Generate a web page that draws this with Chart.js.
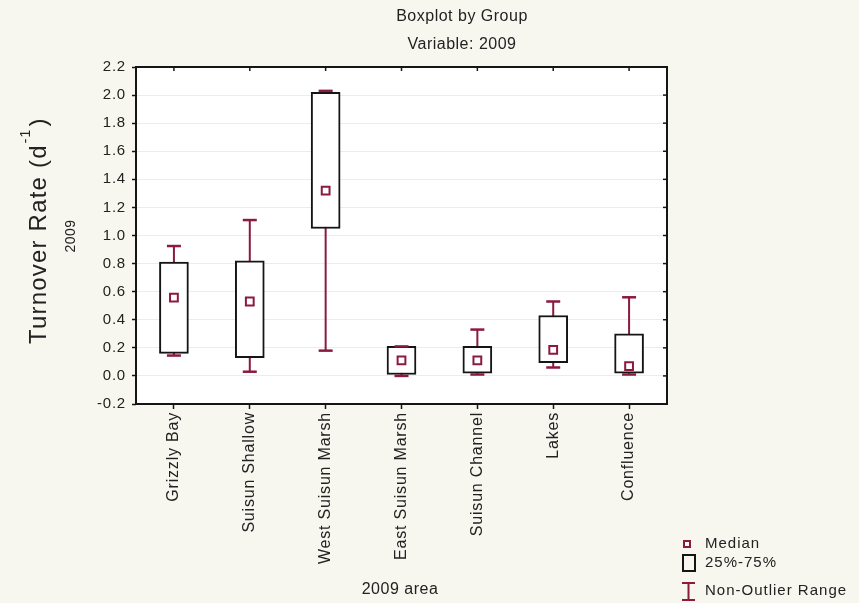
<!DOCTYPE html>
<html>
<head>
<meta charset="utf-8">
<script src="https://cdn.jsdelivr.net/npm/chart.js@4.4.1/dist/chart.umd.min.js"></script>
<style>
  html, body { margin: 0; padding: 0; background: #f7f6ef; }
  #wrap { width: 859px; height: 603px; }
</style>
</head>
<body>
<div id="wrap"><canvas id="grafico" width="859" height="603"></canvas></div>
<script>
// data
const areas = ["Grizzly Bay", "Suisun Shallow", "West Suisun Marsh", "East Suisun Marsh",
               "Suisun Channel", "Lakes", "Confluence"];
const whiskerLow  = [0.145, 0.03, 0.18, 0.00, 0.01, 0.06, 0.01];
const boxLow      = [0.16, 0.13, 1.05, 0.01, 0.02, 0.095, 0.02];
const medians     = [0.557, 0.53, 1.32, 0.11, 0.11, 0.185, 0.07];
const boxHigh     = [0.81, 0.82, 2.02, 0.21, 0.21, 0.43, 0.30];
const whiskerHigh = [0.925, 1.11, 2.03, 0.21, 0.33, 0.53, 0.56];
const yTicks = [-0.2, 0.0, 0.2, 0.4, 0.6, 0.8, 1.0, 1.2, 1.4, 1.6, 1.8, 2.0, 2.2];

const MAROON = "#8b1a3d";
const INK = "#151515";
const FONT = "'Liberation Sans', Arial, sans-serif";

// cream page, white plot area
const fondo = {
    id: "fondo",
    beforeDraw(chart) {
        const ctx = chart.ctx;
        const a = chart.chartArea;
        ctx.save();
        ctx.fillStyle = "#f7f6ef";
        ctx.fillRect(0, 0, chart.width, chart.height);
        ctx.fillStyle = "#ffffff";
        ctx.fillRect(a.left, a.top, a.right - a.left, a.bottom - a.top);
        ctx.restore();
        // wider lettering for the axis labels, like the original
        ctx.letterSpacing = "0.8px";
    }
};

// whisker stems behind the boxes, caps on top
const bigotes = {
    id: "bigotes",
    beforeDatasetsDraw(chart) {
        const ctx = chart.ctx;
        const x = chart.scales.x, y = chart.scales.y;
        ctx.letterSpacing = "0px";
        ctx.save();
        ctx.strokeStyle = MAROON;
        ctx.lineWidth = 2;
        areas.forEach((_, i) => {
            const px = x.getPixelForValue(i);
            ctx.beginPath();
            ctx.moveTo(px, y.getPixelForValue(whiskerLow[i]));
            ctx.lineTo(px, y.getPixelForValue(whiskerHigh[i]));
            ctx.stroke();
        });
        ctx.restore();
    },
    afterDatasetsDraw(chart) {
        const ctx = chart.ctx;
        const x = chart.scales.x, y = chart.scales.y;
        ctx.save();
        ctx.strokeStyle = MAROON;
        ctx.lineWidth = 2.5;
        areas.forEach((_, i) => {
            const px = x.getPixelForValue(i);
            [whiskerLow[i], whiskerHigh[i]].forEach(v => {
                const py = y.getPixelForValue(v);
                ctx.beginPath();
                ctx.moveTo(px - 7, py);
                ctx.lineTo(px + 7, py);
                ctx.stroke();
            });
        });
        ctx.restore();
    }
};

// frame, inner ticks on top/right, titles and legend
const textos = {
    id: "textos",
    afterDraw(chart) {
        const ctx = chart.ctx;
        const a = chart.chartArea;
        const x = chart.scales.x, y = chart.scales.y;
        ctx.save();

        ctx.strokeStyle = INK;
        ctx.lineWidth = 2;
        ctx.strokeRect(a.left, a.top, a.right - a.left, a.bottom - a.top);
        ctx.lineWidth = 1.5;
        yTicks.forEach(v => {
            const py = y.getPixelForValue(v);
            ctx.beginPath();
            ctx.moveTo(a.right - 4, py);
            ctx.lineTo(a.right, py);
            ctx.stroke();
        });
        areas.forEach((_, i) => {
            const px = x.getPixelForValue(i);
            ctx.beginPath();
            ctx.moveTo(px, a.top);
            ctx.lineTo(px, a.top + 4);
            ctx.stroke();
        });

        ctx.fillStyle = "#222";
        ctx.textAlign = "center";
        ctx.textBaseline = "middle";
        ctx.letterSpacing = "0.5px";
        ctx.font = "16px " + FONT;
        ctx.fillText("Boxplot by Group", 462, 17);
        ctx.fillText("Variable: 2009", 462, 45);
        ctx.fillText("2009 area", 400, 590);

        // y titles
        ctx.save();
        ctx.translate(71, 236);
        ctx.rotate(-Math.PI / 2);
        ctx.font = "14px " + FONT;
        ctx.fillText("2009", 0, 0);
        ctx.restore();

        ctx.save();
        ctx.translate(39, 344);
        ctx.rotate(-Math.PI / 2);
        ctx.textAlign = "left";
        ctx.letterSpacing = "1.2px";
        ctx.font = "24px " + FONT;
        const base = "Turnover Rate (d";
        ctx.fillText(base, 0, 0);
        let w = ctx.measureText(base).width;
        ctx.font = "14px " + FONT;
        ctx.fillText("-1", w + 1, -13);
        w += ctx.measureText("-1").width + 3;
        ctx.font = "24px " + FONT;
        ctx.fillText(")", w, 0);
        ctx.restore();

        // legend
        ctx.textAlign = "left";
        ctx.font = "15px " + FONT;
        ctx.letterSpacing = "1px";
        ctx.fillText("Median", 705, 544);
        ctx.fillText("25%-75%", 705, 563);
        ctx.fillText("Non-Outlier Range", 705, 591);

        ctx.strokeStyle = MAROON;
        ctx.lineWidth = 2;
        ctx.fillStyle = "#fff";
        ctx.fillRect(684, 541, 6, 6);
        ctx.strokeRect(684, 541, 6, 6);
        ctx.strokeStyle = INK;
        ctx.strokeRect(683, 555, 12, 16);
        ctx.strokeStyle = MAROON;
        ctx.beginPath();
        ctx.moveTo(682, 583); ctx.lineTo(695, 583);
        ctx.moveTo(688.5, 583); ctx.lineTo(688.5, 600);
        ctx.moveTo(682, 600); ctx.lineTo(695, 600);
        ctx.stroke();

        ctx.restore();
    }
};

const ctx = document.getElementById("grafico").getContext("2d");

new Chart(ctx, {
    type: "bar",
    data: {
        labels: areas,
        datasets: [
            {
                type: "line",
                label: "Median",
                data: medians,
                showLine: false,
                pointStyle: "rect",
                pointRadius: 5.5,
                pointBorderWidth: 2,
                borderColor: MAROON,
                backgroundColor: "#fff",
                order: 0
            },
            {
                label: "25%-75%",
                data: boxLow.map((v, i) => [v, boxHigh[i]]),
                backgroundColor: "#fff",
                borderColor: INK,
                borderWidth: 2,
                borderSkipped: false,
                barThickness: 29,
                order: 1
            }
        ]
    },
    options: {
        responsive: false,
        animation: false,
        devicePixelRatio: 1,
        layout: { padding: { left: 0, top: 67, right: 192, bottom: 0 } },
        plugins: {
            legend: { display: false },
            tooltip: { enabled: false }
        },
        scales: {
            x: {
                type: "category",
                offset: true,
                afterFit: s => { s.height = 199; },
                grid: {
                    offset: false,
                    drawOnChartArea: false,
                    tickLength: 5,
                    tickColor: INK,
                    tickWidth: 1.5
                },
                border: { display: false },
                ticks: {
                    autoSkip: false,
                    minRotation: 90,
                    maxRotation: 90,
                    padding: 3,
                    color: "#222",
                    font: { family: FONT, size: 16 }
                }
            },
            y: {
                min: -0.2,
                max: 2.2,
                afterFit: s => { s.width = 136; },
                afterBuildTicks: s => { s.ticks = yTicks.map(v => ({ value: v })); },
                grid: {
                    color: "rgba(205, 208, 220, 0.4)",
                    tickLength: 4,
                    tickColor: INK,
                    tickWidth: 1.5
                },
                border: { display: false },
                ticks: {
                    padding: 6,
                    color: "#222",
                    font: { family: FONT, size: 15 },
                    callback: v => v.toFixed(1)
                }
            }
        }
    },
    plugins: [fondo, bigotes, textos]
});
</script>
</body>
</html>
